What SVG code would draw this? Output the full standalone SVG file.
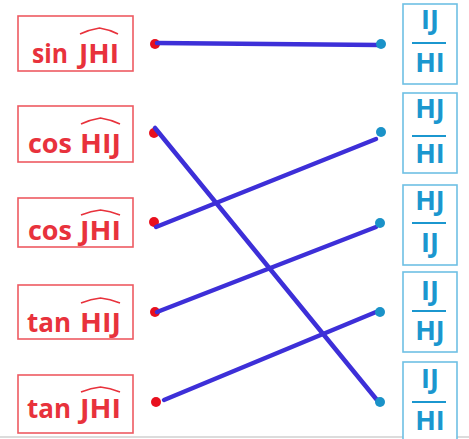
<svg xmlns="http://www.w3.org/2000/svg" width="469" height="439" viewBox="0 0 469 439">
<style>
.lb{fill:#fff;stroke:#ee5a62;stroke-width:1.6}
.rb{fill:#fff;stroke:#6ec0e4;stroke-width:1.6}
.lt{font-family:"Open Sans","Noto Sans",sans-serif;font-weight:700;font-size:27px;fill:#e8323c}
.rt{font-family:"Open Sans","Noto Sans",sans-serif;font-weight:700;font-size:27px;fill:#1b97cf;text-anchor:middle}
.hat{fill:none;stroke:#e8323c;stroke-width:1.6}
.bar{stroke:#1b97cf;stroke-width:2}
.rd{fill:#e8101e}
.bd{fill:#1a92c8}
.ln{stroke:#3d2fd8;stroke-width:4.5;stroke-linecap:round;fill:none}
</style>
<rect x="0" y="0" width="469" height="439" fill="#fff"/>
<line x1="0" y1="437" x2="469" y2="437" stroke="#dcdcdc" stroke-width="2"/>

<g id="l1">
<rect class="lb" x="18" y="16" width="115" height="55"/>
<text class="lt" y="63"><tspan x="32" textLength="36" lengthAdjust="spacingAndGlyphs">sin</tspan><tspan x="79" textLength="40" lengthAdjust="spacingAndGlyphs">JHI</tspan></text>
<path class="hat" d="M80 34 Q90 29.5 99.5 28 Q109 29.5 118 34"/>
<circle class="rd" cx="155" cy="44" r="5"/>
</g>
<g id="l2">
<rect class="lb" x="18" y="106" width="115" height="56"/>
<text class="lt" y="153"><tspan x="28" textLength="44" lengthAdjust="spacingAndGlyphs">cos</tspan><tspan x="80" textLength="41" lengthAdjust="spacingAndGlyphs">HIJ</tspan></text>
<path class="hat" d="M81 124 Q91 119.5 100.5 118 Q110 119.5 120 124"/>
<circle class="rd" cx="154" cy="133" r="5"/>
</g>
<g id="l3">
<rect class="lb" x="18" y="198" width="115" height="49"/>
<text class="lt" y="240"><tspan x="28" textLength="44" lengthAdjust="spacingAndGlyphs">cos</tspan><tspan x="80" textLength="41" lengthAdjust="spacingAndGlyphs">JHI</tspan></text>
<path class="hat" d="M81 215 Q91 211 100.5 210 Q110 211 120 215"/>
<circle class="rd" cx="154" cy="222" r="5"/>
</g>
<g id="l4">
<rect class="lb" x="18" y="285" width="115" height="54"/>
<text class="lt" y="332"><tspan x="27" textLength="44" lengthAdjust="spacingAndGlyphs">tan</tspan><tspan x="80" textLength="41" lengthAdjust="spacingAndGlyphs">HIJ</tspan></text>
<path class="hat" d="M81 303 Q91 299 100.5 298 Q110 299 120 303"/>
<circle class="rd" cx="155" cy="312" r="5"/>
</g>
<g id="l5">
<rect class="lb" x="18" y="375" width="115" height="58"/>
<text class="lt" y="418"><tspan x="27" textLength="44" lengthAdjust="spacingAndGlyphs">tan</tspan><tspan x="80" textLength="41" lengthAdjust="spacingAndGlyphs">JHI</tspan></text>
<path class="hat" d="M81 392 Q91 388 100.5 387 Q110 388 120 392"/>
<circle class="rd" cx="156" cy="402" r="5"/>
</g>

<g id="connectors">
<path class="ln" d="M157 43 L379 45"/>
<path class="ln" d="M155 128 L377 400"/>
<path class="ln" d="M156 227 L376 139"/>
<path class="ln" d="M157 312 L376 227"/>
<path class="ln" d="M164 400 L376 312"/>
</g>

<g id="r1">
<rect class="rb" x="403" y="4" width="54" height="80"/>
<text class="rt" x="430" y="29">IJ</text>
<line class="bar" x1="412" y1="43" x2="446" y2="43"/>
<text class="rt" x="430" y="72">HI</text>
<circle class="bd" cx="381" cy="44" r="5"/>
</g>
<g id="r2">
<rect class="rb" x="403" y="93" width="54" height="80"/>
<text class="rt" x="430" y="118">HJ</text>
<line class="bar" x1="412" y1="136" x2="446" y2="136"/>
<text class="rt" x="430" y="163">HI</text>
<circle class="bd" cx="381" cy="132" r="5"/>
</g>
<g id="r3">
<rect class="rb" x="403" y="185" width="54" height="80"/>
<text class="rt" x="430" y="210">HJ</text>
<line class="bar" x1="412" y1="223" x2="446" y2="223"/>
<text class="rt" x="430" y="252">IJ</text>
<circle class="bd" cx="380" cy="223" r="5"/>
</g>
<g id="r4">
<rect class="rb" x="403" y="272" width="54" height="80"/>
<text class="rt" x="430" y="300">IJ</text>
<line class="bar" x1="412" y1="311" x2="446" y2="311"/>
<text class="rt" x="430" y="340">HJ</text>
<circle class="bd" cx="380" cy="312" r="5"/>
</g>
<g id="r5">
<rect class="rb" x="403" y="362" width="54" height="80"/>
<text class="rt" x="430" y="388">IJ</text>
<line class="bar" x1="412" y1="402" x2="446" y2="402"/>
<text class="rt" x="430" y="430">HI</text>
<circle class="bd" cx="380" cy="402" r="5"/>
</g>
</svg>
